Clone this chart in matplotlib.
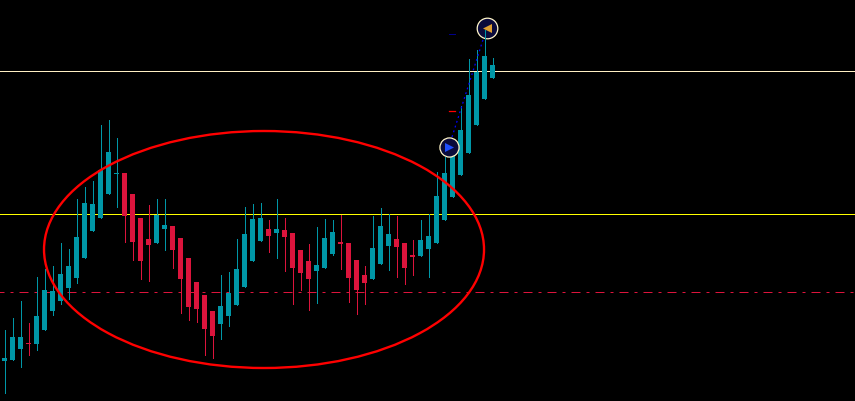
import matplotlib
matplotlib.use("Agg")
import matplotlib.pyplot as plt
from matplotlib.patches import Ellipse

# candle values (chart units, axis runs top to bottom)
highs = [330, 318, 301, 323, 277, 269, 266, 243, 249, 199, 187, 181, 125, 120, 138, 173,
         194, 218, 205, 199, 199, 226, 238, 258, 282, 295, 311, 275, 272, 239, 207, 204,
         203, 220, 199, 218, 233, 250, 244, 227, 219, 220, 215, 243, 260, 266, 216, 208,
         214, 216, 243, 240, 220, 214, 172, 157, 140, 106, 59, 50, 30, 58]
lows = [393, 360, 367, 355, 350, 330, 315, 304, 299, 283, 258, 231, 218, 194, 207, 242,
        260, 279, 281, 243, 250, 268, 313, 320, 322, 355, 358, 339, 326, 305, 287, 261,
        241, 252, 258, 271, 304, 290, 310, 303, 268, 255, 269, 302, 314, 304, 279, 264,
        270, 277, 284, 275, 256, 277, 243, 220, 197, 175, 153, 125, 99, 78]
body_tops = [358, 337, 337, 343, 316, 290, 291, 274, 266, 237, 203, 204, 170, 152, 173, 173,
             194, 218, 239, 215, 225, 226, 238, 258, 282, 295, 311, 306, 293, 269, 234, 219,
             218, 229, 229, 230, 233, 250, 261, 265, 238, 232, 242, 243, 260, 275, 248, 226,
             234, 239, 243, 255, 240, 236, 196, 173, 152, 130, 95, 72, 56, 65]
body_bottoms = [361, 360, 349, 344, 344, 330, 311, 301, 288, 278, 258, 231, 218, 194, 174, 216,
                242, 261, 245, 243, 229, 250, 279, 307, 309, 329, 336, 324, 316, 305, 287, 261,
                241, 236, 233, 237, 268, 273, 279, 271, 268, 254, 244, 278, 290, 283, 279, 264,
                246, 247, 268, 257, 256, 249, 243, 220, 197, 175, 153, 125, 99, 78]
directions = "uuudUUUUUUUUUUudddduuddddddd"  # placeholder replaced below
directions = ["up", "up", "up", "down", "up", "up", "up", "up", "up", "up", "up", "up", "up",
              "up", "up", "down", "down", "down", "down", "up", "up", "down", "down", "down",
              "down", "down", "down", "up", "up", "up", "up", "up", "up", "down", "up", "down",
              "down", "down", "down", "up", "up", "up", "down", "down", "down", "down", "up",
              "up", "up", "down", "down", "down", "up", "up", "up", "up", "up", "up", "up",
              "up", "up", "up"]

# horizontal levels
level_top = 70.5
level_mid = 213.5
level_dash = 291.5

# trade arrows and small ticks
trade_x = [55.56, 60.3]
trade_y = [146.5, 27.5]
tick_x = 55.9
tick_navy = 33.5
tick_red = 110.5

TEAL = "#0097a7"
RED = "#dc143c"

fig = plt.figure(figsize=(8.55, 4.01), dpi=100, facecolor="black")
ax = fig.add_axes([0, 0, 1, 1])
ax.set_facecolor("black")
ax.set_xlim(-4.5 / 8, (855 - 4.5) / 8)
ax.set_ylim(401, 0)
ax.axis("off")

# levels
ax.axhline(level_top, color="#fff0c4", lw=0.72, zorder=1)
ax.axhline(level_mid, color="#ffff00", lw=0.72, zorder=1)
ax.plot([-1, 108], [level_dash, level_dash], color=RED, lw=0.72, zorder=1,
        linestyle=(4, (9, 6, 3, 6)))

# candles
for i in range(len(highs)):
    col = TEAL if directions[i] == "up" else RED
    ax.vlines(i, highs[i], lows[i], color=col, lw=0.72, zorder=2, antialiased=False)
    ax.bar(i, body_bottoms[i] - body_tops[i], bottom=body_tops[i], width=5 / 8,
           color=col, linewidth=0, zorder=2, antialiased=False)

# ellipse round the range
ax.add_patch(Ellipse((32.44, 249.5), 55, 237, fill=False, edgecolor="#ff0000", lw=1.7, zorder=3))

# trade line
ax.plot(trade_x, trade_y, color="#0000ff", lw=0.9, linestyle=(0, (1.5, 2.5)), zorder=4)
ax.plot([tick_x - 0.4, tick_x + 0.4], [tick_navy, tick_navy], color="#00008b", lw=0.72, zorder=4)
ax.plot([tick_x - 0.4, tick_x + 0.4], [tick_red, tick_red], color="#ff0000", lw=0.9, zorder=4)

# entry and exit badges
ax.scatter(trade_x[0], trade_y[0], s=190, color="#0b0b3b", edgecolors="#fff5c8", linewidths=0.9, zorder=5)
ax.scatter(trade_x[1], trade_y[1], s=220, color="#0b0b3b", edgecolors="#fff5c8", linewidths=0.9, zorder=5)
ax.scatter(trade_x[0], trade_y[0], s=42, marker=">", color="#1f4fff", linewidths=0, zorder=6)
ax.scatter(trade_x[1], trade_y[1], s=42, marker="<", color="#e0a030", linewidths=0, zorder=6)
ax.vlines(60, 30, 56, color=TEAL, lw=0.72, zorder=7, antialiased=False)

fig.savefig("out.png", dpi=100, facecolor="black")
